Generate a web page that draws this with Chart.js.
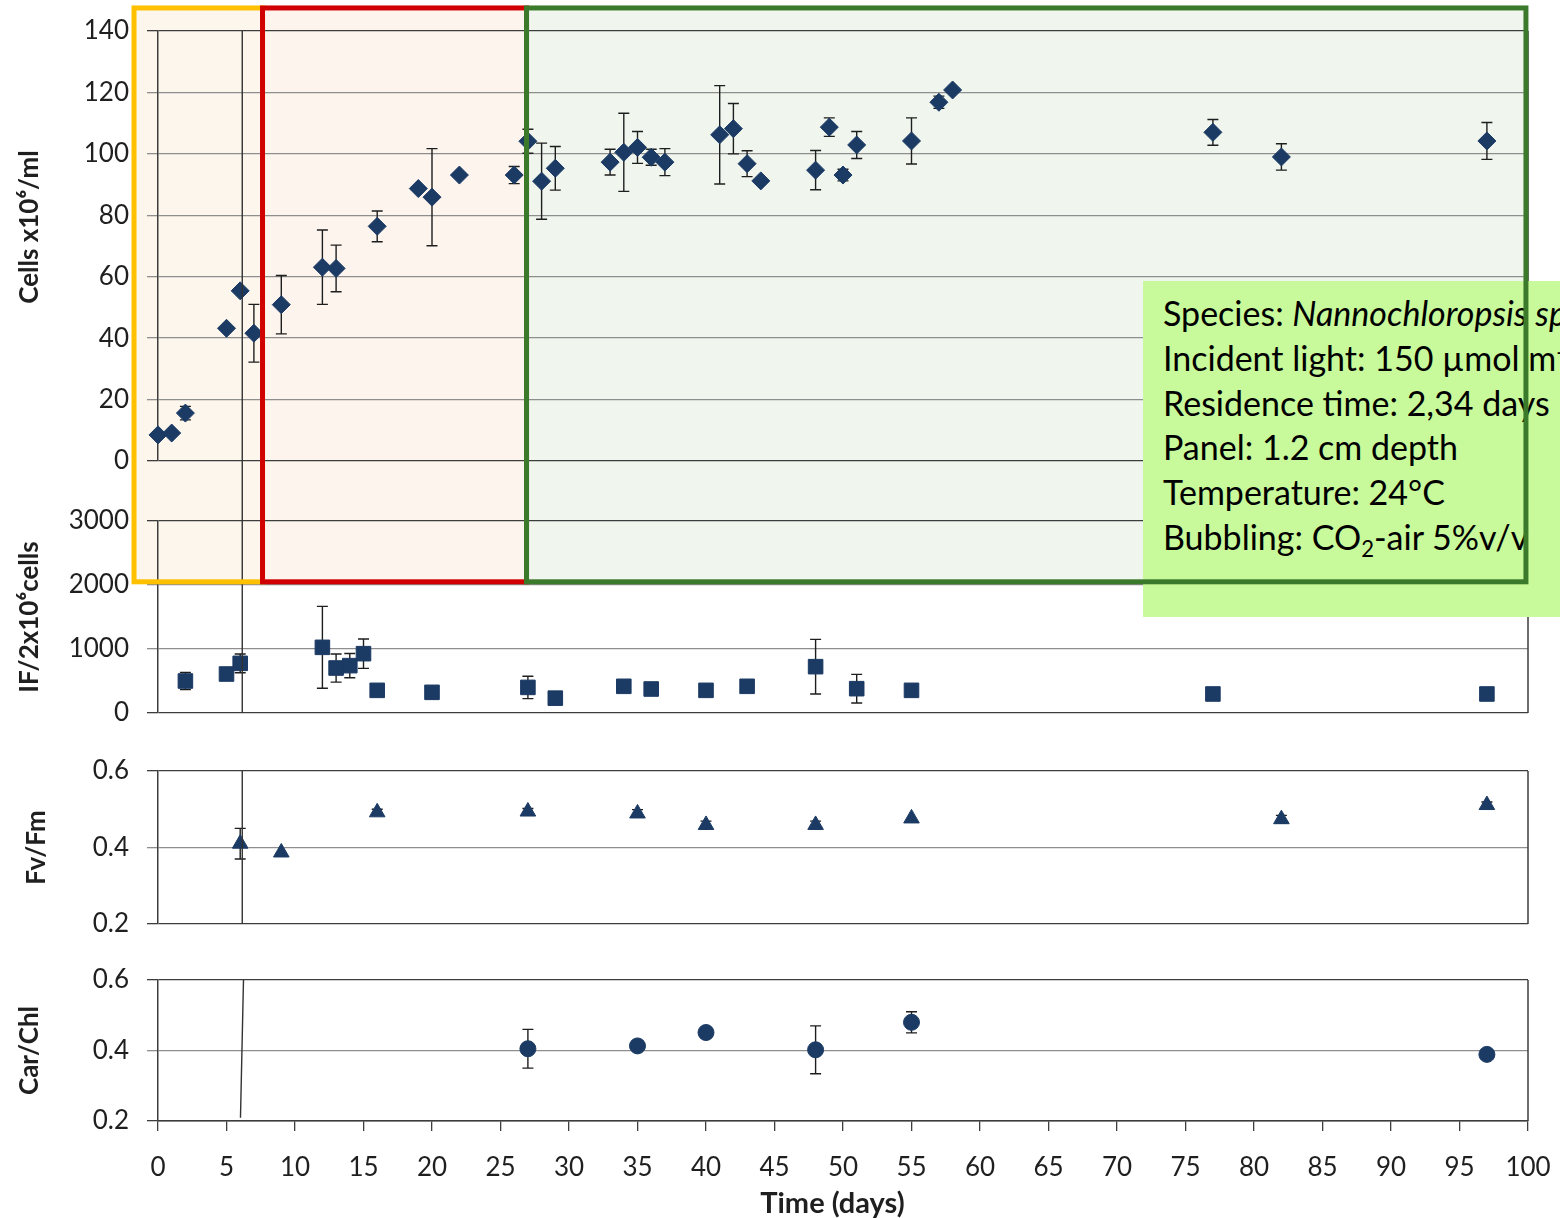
<!DOCTYPE html>
<html>
<head>
<meta charset="utf-8">
<title>Nannochloropsis continuous culture</title>
<script src="https://cdn.jsdelivr.net/npm/chart.js@4.4.1/dist/chart.umd.min.js"></script>
<style>
  html, body { margin: 0; padding: 0; background: #fff; }
  #stage { position: relative; width: 1560px; height: 1218px; overflow: hidden; background: #fff; }
  .layer { position: absolute; left: 0; top: 0; }
  .pane { position: absolute; left: 0; width: 1560px; z-index: 2; }
  #note {
    position: absolute; left: 1143px; top: 281px; width: 417px; height: 336px;
    box-sizing: border-box; padding: 10px 0 0 20px; overflow: hidden; white-space: nowrap;
    background: #c8f99a; color: #000; z-index: 3;
    font-family: Lato, "Open Sans", sans-serif; font-size: 34px; line-height: 44.8px;
  }
  #note sub { font-size: 0.65em; line-height: 0; vertical-align: -0.3em; }
  #note sup { font-size: 0.65em; line-height: 0; vertical-align: 0.5em; }
</style>
</head>
<body>
<div id="stage">
  <canvas id="under" class="layer" width="1560" height="1218" style="z-index:1"></canvas>
  <div class="pane" style="top:0;height:490px"><canvas id="cCells"></canvas></div>
  <div class="pane" style="top:490px;height:240px"><canvas id="cIF"></canvas></div>
  <div class="pane" style="top:740px;height:200px"><canvas id="cFv"></canvas></div>
  <div class="pane" style="top:945px;height:273px"><canvas id="cCar"></canvas></div>
  <div id="note">
    <div>Species: <i>Nannochloropsis sp.</i></div>
    <div>Incident light: 150 µmol m<sup>-2</sup> s<sup>-1</sup></div>
    <div>Residence time: 2,34 days</div>
    <div>Panel: 1.2 cm depth</div>
    <div>Temperature: 24°C</div>
    <div>Bubbling: CO<sub>2</sub>-air 5%v/v</div>
  </div>
  <canvas id="over" class="layer" width="1560" height="1218" style="z-index:4;pointer-events:none"></canvas>
</div>
<script>
// ---- axis ticks ----
const xTicks = [0, 5, 10, 15, 20, 25, 30, 35, 40, 45, 50, 55, 60, 65, 70, 75, 80, 85, 90, 95, 100];
const cellTicks = [0, 20, 40, 60, 80, 100, 120, 140];
const ifTicks = [0, 1000, 2000, 3000];
const ratioTicks = [0.2, 0.4, 0.6];

// ---- cell density (x10^6 cells/ml) ----
const cellDays   = [0, 1, 2, 5, 6, 7, 9, 12, 13, 16, 19, 20, 22, 26, 27, 28, 29, 33, 34, 35,
                    36, 37, 41, 42, 43, 44, 48, 49, 50, 51, 55, 57, 58, 77, 82, 97];
const cellValues = [8.5, 9.1, 15.6, 43.2, 55.4, 41.6, 50.9, 63.1, 62.7, 76.4, 88.7, 85.9, 93.1, 93.1, 104.1, 91.1, 95.3, 97.3, 100.5, 102.1,
                    98.9, 97.3, 106.2, 108.2, 96.8, 91.2, 94.7, 108.7, 93.1, 102.9, 104.2, 116.8, 120.8, 107.0, 99.0, 104.2];
const cellErrors = [null, null, 2.2, null, null, 9.4, 9.5, 12.1, 7.6, 5.0, null, 15.8, null, 2.8, 3.9, 12.4, 7.1, 4.2, 12.7, 5.2,
                    2.6, 4.4, 16.0, 8.2, 4.2, null, 6.4, 3.0, 1.9, 4.4, 7.5, 2.0, null, 4.2, 4.3, 6.0];

// ---- IF per 2x10^6 cells ----
const ifDays   = [2, 5, 6, 12, 13, 14, 15, 16, 20, 27, 29, 34, 36, 40, 43, 48, 51, 55, 77, 97];
const ifValues = [500, 609, 776, 1026, 703, 740, 927, 354, 323, 400, 232, 417, 375, 354, 417, 724, 380, 354, 297, 297];
const ifErrors = [135, null, 146, 640, 220, 190, 230, null, null, 175, null, null, null, null, null, 427, 224, null, null, null];

// ---- Fv/Fm ----
const fvDays   = [6, 9, 16, 27, 35, 40, 48, 55, 82, 97];
const fvValues = [0.41, 0.387, 0.492, 0.494, 0.489, 0.459, 0.459, 0.476, 0.474, 0.511];
const fvErrors = [0.04, null, 0.008, 0.008, 0.01, 0.01, 0.01, null, 0.01, 0.008];

// ---- carotenoid / chlorophyll ----
const carDays   = [27, 35, 40, 48, 55, 97];
const carValues = [0.405, 0.413, 0.451, 0.402, 0.480, 0.389];
const carErrors = [0.055, null, null, 0.068, 0.03, null];

// ---- culture phases (days) and their vertical reach ----
const phaseDays = [-1.75, 7.63, 26.9, 99.85];
const phaseFills = ['#fdf6ed', '#fdf4ee', '#f0f6ee'];
const phaseEdges = ['#ffc000', '#d00000', '#3c7a2b'];
const phaseTopCells = 147.5;   // on the cell-density scale
const phaseBottomIF = 2050;    // on the IF scale
const guideDay = 6.15;

const FONT = 'Lato, "Open Sans", sans-serif';
const NAVY = '#1b3a64';
const INK = '#1f1f1f';
const DARK = '#3d3d3d';
const GRID = '#8e8e8e';

Chart.defaults.font.family = FONT;

const errorBars = {
  id: 'errorBars',
  beforeDatasetsDraw(chart) {
    const ctx = chart.ctx, xs = chart.scales.x, ys = chart.scales.y;
    chart.data.datasets.forEach(ds => {
      if (!ds.errors) return;
      ctx.save();
      ctx.strokeStyle = '#1e1e1e';
      ctx.lineWidth = 1.4;
      ds.data.forEach((p, i) => {
        const e = ds.errors[i];
        if (e == null) return;
        const x = xs.getPixelForValue(p.x);
        const y1 = ys.getPixelForValue(p.y + e);
        const y2 = ys.getPixelForValue(p.y - e);
        ctx.beginPath();
        ctx.moveTo(x, y1); ctx.lineTo(x, y2);
        ctx.moveTo(x - 5.5, y1); ctx.lineTo(x + 5.5, y1);
        ctx.moveTo(x - 5.5, y2); ctx.lineTo(x + 5.5, y2);
        ctx.stroke();
      });
      ctx.restore();
    });
  }
};

const frameRight = {
  id: 'frameRight',
  afterDraw(chart) {
    const {ctx, chartArea: a} = chart;
    ctx.save();
    ctx.strokeStyle = DARK;
    ctx.lineWidth = 1.5;
    ctx.beginPath();
    ctx.moveTo(a.right, a.top);
    ctx.lineTo(a.right, a.bottom);
    ctx.stroke();
    ctx.restore();
  }
};

function points(days, values) {
  return days.map((d, i) => ({x: d, y: values[i]}));
}

function panel(id, dataset, yTicks, yTitle, o) {
  const n = yTicks.length;
  return new Chart(document.getElementById(id), {
    type: 'scatter',
    data: {datasets: [Object.assign({
      showLine: false,
      backgroundColor: NAVY,
      borderColor: NAVY,
      borderWidth: 1,
      clip: false
    }, dataset)]},
    options: {
      responsive: true,
      maintainAspectRatio: false,
      animation: false,
      devicePixelRatio: 1,
      events: [],
      layout: {padding: {left: 0, right: 32, top: o.top, bottom: o.bottom}},
      plugins: {legend: {display: false}, tooltip: {enabled: false}},
      scales: {
        x: {
          type: 'linear', min: 0, max: 100, display: !!o.showX,
          afterBuildTicks: s => { s.ticks = xTicks.map(v => ({value: v})); },
          afterFit: s => {
            s.paddingLeft = 0;
            s.paddingRight = 0;
            s.height = o.showX ? 97 : 0;
          },
          grid: {drawOnChartArea: false, drawTicks: true, tickLength: 10, color: DARK, lineWidth: 1.3},
          border: {display: true, color: DARK, width: 1.5},
          ticks: {font: {size: 26}, color: INK, padding: 21, maxRotation: 0, autoSkip: false},
          title: {display: true, text: 'Time (days)   ', color: INK,
                  font: {size: 29, weight: 'bold'}, padding: {top: 0, bottom: -3}}
        },
        y: {
          min: yTicks[0], max: yTicks[n - 1],
          afterBuildTicks: s => { s.ticks = yTicks.map(v => ({value: v})); },
          afterFit: s => {
            s.width = 158;
            s.paddingTop = 0;
            s.paddingBottom = 0;
          },
          grid: {
            color: c => (c.index === 0 || c.index === n - 1) ? DARK : GRID,
            lineWidth: 1.3, tickLength: 11
          },
          border: {color: DARK, width: 1.5},
          ticks: {font: {size: 26}, color: INK, padding: 18,
                  callback: v => o.decimals ? Number(v).toFixed(o.decimals) : String(v)},
          title: {display: true, text: yTitle, color: INK,
                  font: {size: 26, weight: 'bold'}, padding: {top: o.titlePad, bottom: 0}}
        }
      }
    },
    plugins: [errorBars, frameRight]
  });
}

const cellsChart = panel('cCells', {
  data: points(cellDays, cellValues), errors: cellErrors,
  pointStyle: 'rectRot', pointRadius: 9
}, cellTicks, '      Cells x10⁶/ml', {top: 31, bottom: 29, titlePad: 14});

const ifChart = panel('cIF', {
  data: points(ifDays, ifValues), errors: ifErrors,
  pointStyle: 'rect', pointRadius: 10.3
}, ifTicks, 'IF/2x10⁶cells', {top: 31, bottom: 17, titlePad: 14});

const fvChart = panel('cFv', {
  data: points(fvDays, fvValues), errors: fvErrors,
  pointStyle: 'triangle', pointRadius: 9
}, ratioTicks, 'Fv/Fm', {top: 31, bottom: 16, titlePad: 21, decimals: 1});

const carChart = panel('cCar', {
  data: points(carDays, carValues), errors: carErrors,
  pointStyle: 'circle', pointRadius: 8
}, ratioTicks, 'Car/Chl', {top: 35, bottom: 0, titlePad: 14, decimals: 1, showX: true});

// ---- page-level drawing: phase boxes and the day-6 guide line ----
const stageTop = document.getElementById('stage').getBoundingClientRect().top;
function gx(chart, v) { return chart.scales.x.getPixelForValue(v); }
function gy(chart, v) {
  return chart.canvas.getBoundingClientRect().top - stageTop + chart.scales.y.getPixelForValue(v);
}

const boxTop = gy(cellsChart, phaseTopCells);
const boxBottom = gy(ifChart, phaseBottomIF);

const under = document.getElementById('under').getContext('2d');
phaseFills.forEach((c, i) => {
  const x0 = gx(cellsChart, phaseDays[i]), x1 = gx(cellsChart, phaseDays[i + 1]);
  under.fillStyle = c;
  under.fillRect(x0, boxTop, x1 - x0, boxBottom - boxTop);
});

const over = document.getElementById('over').getContext('2d');
over.strokeStyle = '#333';
over.lineWidth = 1.4;
over.beginPath();
over.moveTo(gx(cellsChart, guideDay), gy(cellsChart, 140));
over.lineTo(gx(cellsChart, guideDay), gy(ifChart, 0));
over.moveTo(gx(fvChart, guideDay), gy(fvChart, 0.6));
over.lineTo(gx(fvChart, guideDay), gy(fvChart, 0.2));
over.moveTo(gx(carChart, guideDay + 0.09), gy(carChart, 0.6));
over.lineTo(gx(carChart, guideDay - 0.13), gy(carChart, 0.209));
over.stroke();

over.lineWidth = 5;
over.lineJoin = 'miter';
phaseEdges.forEach((c, i) => {
  const x0 = gx(cellsChart, phaseDays[i]), x1 = gx(cellsChart, phaseDays[i + 1]);
  over.strokeStyle = c;
  over.strokeRect(x0, boxTop, x1 - x0, boxBottom - boxTop);
});
</script>
</body>
</html>
